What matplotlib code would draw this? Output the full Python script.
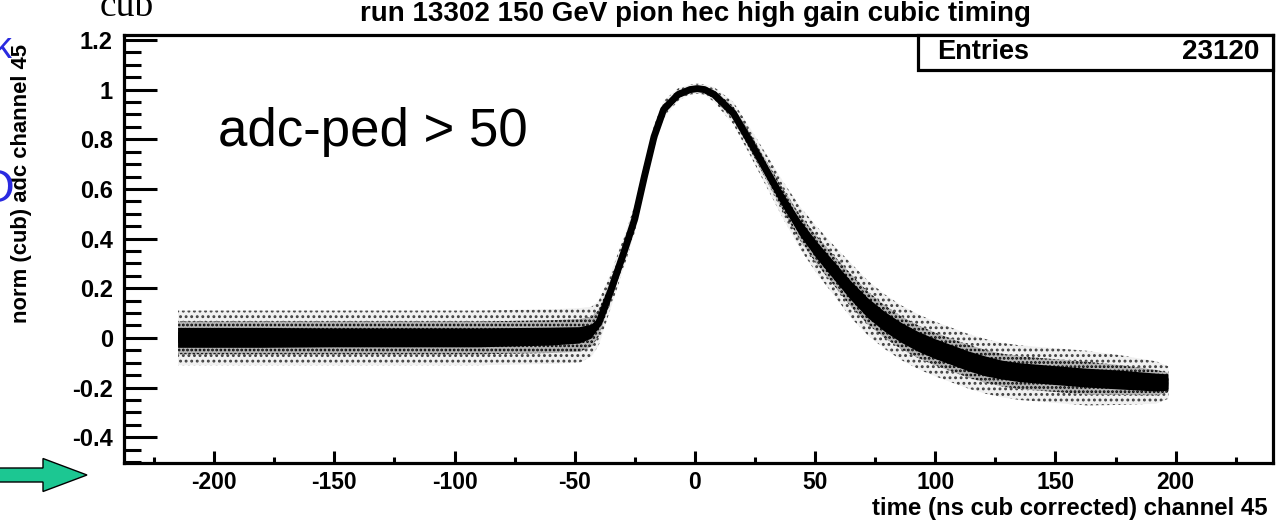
import matplotlib
matplotlib.use("Agg")
import matplotlib.pyplot as plt
from matplotlib.patches import Rectangle, FancyArrow
import numpy as np

# ---- data ----
time_ns = [-215, -180, -150, -120, -90, -60, -48, -43, -40, -35, -29, -25, -21, -17, -13,
           -7, -2, 1, 4, 8, 16, 23, 30, 37, 44, 51, 58, 65, 72, 79, 86, 93, 100, 107,
           114, 121, 128, 135, 150, 163, 177, 192, 197]
center = [0.0, 0.0, 0.0, 0.0, 0.0, 0.005, 0.01, 0.025, 0.06, 0.19, 0.36, 0.48, 0.65, 0.81, 0.92,
          0.98, 1.0, 1.004, 1.0, 0.98, 0.905, 0.79, 0.67, 0.55, 0.44, 0.35, 0.27, 0.19, 0.12,
          0.065, 0.02, -0.016, -0.045, -0.07, -0.095, -0.115, -0.13, -0.14, -0.152, -0.162,
          -0.17, -0.18, -0.18]
core_halfwidth = [0.04, 0.04, 0.038, 0.038, 0.038, 0.036, 0.033, 0.028, 0.02, 0.012, 0.01, 0.01, 0.01,
                  0.01, 0.01, 0.008, 0.006, 0.006, 0.006, 0.008, 0.012, 0.018, 0.024, 0.028, 0.032,
                  0.034, 0.036, 0.038, 0.04, 0.04, 0.04, 0.04, 0.04, 0.04, 0.04, 0.04,
                  0.038, 0.038, 0.038, 0.038, 0.038, 0.036, 0.033]
fringe_halfwidth = [0.11, 0.11, 0.11, 0.11, 0.11, 0.11, 0.11, 0.1, 0.09, 0.07, 0.06, 0.055, 0.05, 0.045,
                    0.035, 0.025, 0.02, 0.02, 0.02, 0.03, 0.045, 0.055, 0.065, 0.075, 0.085, 0.095, 0.1,
                    0.11, 0.11, 0.11, 0.11, 0.11, 0.11, 0.11, 0.11, 0.11, 0.11, 0.11, 0.11, 0.11, 0.1, 0.085,
                    0.065]
n_entries = 23120
x_ticks = [-200, -150, -100, -50, 0, 50, 100, 150, 200]
y_ticks = [-0.4, -0.2, 0, 0.2, 0.4, 0.6, 0.8, 1, 1.2]
y_ticklabels = ["-0.4", "-0.2", "0", "0.2", "0.4", "0.6", "0.8", "1", "1.2"]

W, H = 1287, 521
fig = plt.figure(figsize=(W / 100, H / 100), dpi=100)
ax = fig.add_axes([124 / W, (H - 463) / H, (1273 - 124) / W, (463 - 35) / H])

t = np.array(time_ns, dtype=float)
c = np.array(center)
core = np.array(core_halfwidth)
fr = np.array(fringe_halfwidth)

plt.rcParams["hatch.linewidth"] = 1.3
# sparse fringe (scattered entries)
ax.fill_between(t, c - fr, c + fr, facecolor="#f0f0f0", edgecolor="#404040", hatch="...",
                lw=0, zorder=1)
ax.fill_between(t, c - fr * 0.6, c + fr * 0.6, facecolor="#b4b4b4", edgecolor="black",
                hatch="....", lw=0, zorder=1)
# dense core
ax.fill_between(t, c - core, c + core, facecolor="black", edgecolor="none", lw=0, zorder=2)
ax.plot(t, c, color="black", lw=5, solid_capstyle="butt", zorder=3)

ax.set_xlim(-237.5, 240.5)
ax.set_ylim(-0.504, 1.22)

FONT = "Liberation Sans"
ax.set_xticks(x_ticks)
ax.set_xticklabels([str(v) for v in x_ticks], fontfamily=FONT, fontweight="bold", fontsize=16.5)
ax.set_xticks([-225, -175, -125, -75, -25, 25, 75, 125, 175, 225], minor=True)
ax.set_yticks(y_ticks)
ax.set_yticklabels(y_ticklabels, fontfamily=FONT, fontweight="bold", fontsize=17)
ax.set_yticks([v / 100 for v in range(-50, 121, 5) if v % 20 != 0], minor=True)

ax.tick_params(axis="y", which="major", direction="in", length=24, width=2.2, pad=8)
ax.tick_params(axis="y", which="minor", direction="in", length=12, width=2.2)
ax.tick_params(axis="x", which="major", direction="in", length=9, width=2.2, pad=6)
ax.tick_params(axis="x", which="minor", direction="in", length=4.5, width=2.2)
ax.tick_params(top=False, right=False, which="both")
for s in ax.spines.values():
    s.set_linewidth(2.3)

# title
fig.text(695 / W, 1 - 14 / H, "run 13302 150 GeV pion hec high gain cubic timing",
         ha="center", va="center", fontfamily=FONT, fontweight="bold", fontsize=20)
# axis labels
fig.text(1268 / W, 1 - 509 / H, "time (ns cub corrected) channel 45", ha="right", va="center",
         fontfamily=FONT, fontweight="bold", fontsize=17.3)
fig.text(22 / W, 1 - 44 / H, "norm (cub) adc channel 45", ha="center", va="top", rotation=90,
         fontfamily=FONT, fontweight="bold", fontsize=15.8)

# stats box
ax.add_patch(Rectangle((0.691, 1 - 35 / 428), 0.309, 35 / 428, transform=ax.transAxes,
                       facecolor="white", edgecolor="black", lw=2.3, zorder=5, clip_on=False))
ax.text(0.708, 1 - 17 / 428, "Entries", transform=ax.transAxes, ha="left", va="center",
        fontfamily=FONT, fontweight="bold", fontsize=19.5, zorder=6)
ax.text(0.988, 1 - 17 / 428, str(n_entries), transform=ax.transAxes, ha="right", va="center",
        fontfamily=FONT, fontweight="bold", fontsize=20, zorder=6)

# annotation
fig.text(218 / W, 1 - 132 / H, "adc-ped > 50", ha="left", va="center", fontfamily=FONT,
         fontsize=38)

# slide fragments
fig.text(100 / W, 1 - 7 / H, "cub", ha="left", va="center", fontfamily="Liberation Serif",
         fontsize=27)
fig.text(-6 / W, 1 - 48 / H, "k", ha="left", va="center", fontfamily=FONT, fontsize=26,
         color="#2a2ae0")
fig.text(-22 / W, 1 - 190 / H, "O", ha="left", va="center", fontfamily=FONT, fontsize=34,
         color="#2a2ae0")
arrow = FancyArrow(-5 / W, 1 - 475 / H, 92 / W, 0, width=14 / H, head_width=33 / H,
                   head_length=44 / W, length_includes_head=True, transform=fig.transFigure,
                   facecolor="#1cc792", edgecolor="black", lw=1.0)
fig.patches.append(arrow)

fig.savefig("out.png", dpi=100)
